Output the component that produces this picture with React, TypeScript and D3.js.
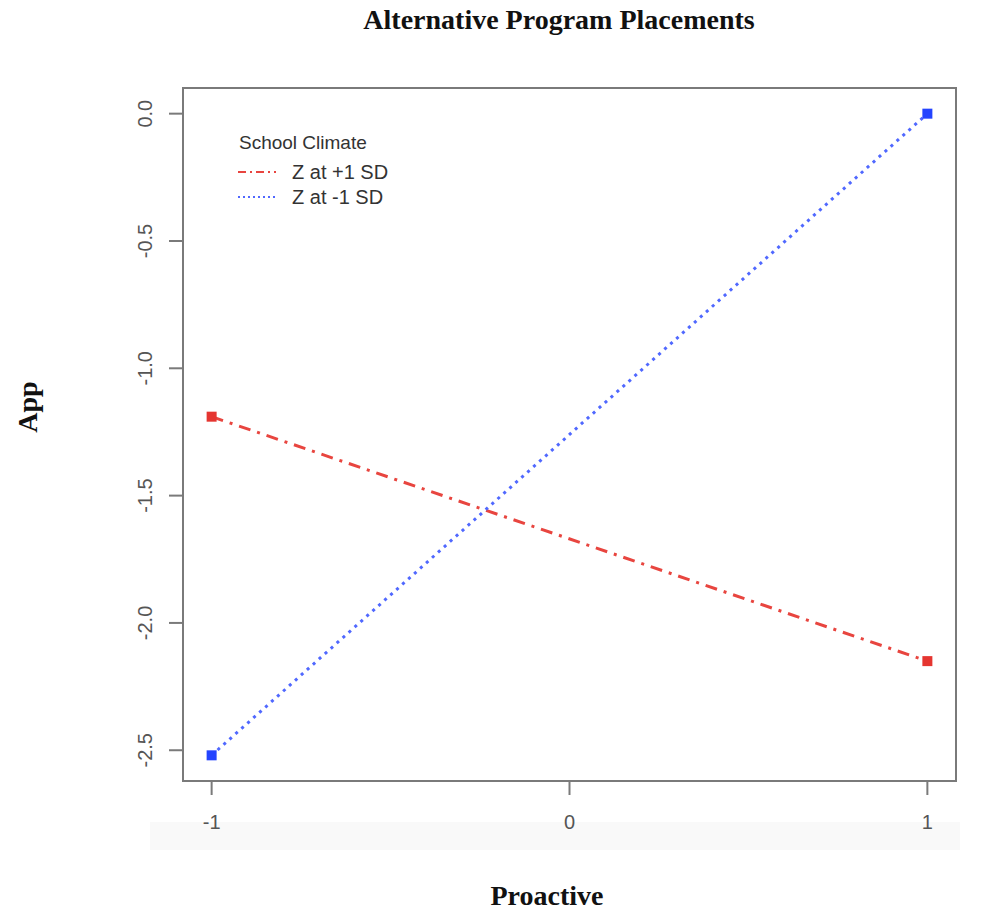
import * as d3 from 'd3';
import React, { useEffect, useRef } from 'react';

// values
const xLevels = [-1, 1];
const seriesNames = ['Z at +1 SD', 'Z at -1 SD'];
const highZ = [-1.19, -2.15];
const lowZ = [-2.52, 0.0];
const xTicks = [-1, 0, 1];
const yTicks = [0.0, -0.5, -1.0, -1.5, -2.0, -2.5];

const W = 983;
const H = 913;

// R prints a plain hyphen, d3 uses the unicode minus
const hyphen = (s: string) => s.replace('\u2212', '-');

export default function App() {
  const ref = useRef<SVGSVGElement>(null);

  useEffect(() => {
    const svg = d3.select(ref.current);
    svg.selectAll('*').remove();

    const box = { left: 183, right: 956, top: 88, bottom: 781 };

    // R style 4% extension of the data range
    const ext = (lo: number, hi: number) => {
      const d = (hi - lo) * 0.04;
      return [lo - d, hi + d];
    };
    const allY = highZ.concat(lowZ);
    const x = d3.scaleLinear().domain(ext(-1, 1)).range([box.left, box.right]);
    const y = d3.scaleLinear().domain(ext(d3.min(allY)!, d3.max(allY)!)).range([box.bottom, box.top]);

    // faint scan band under the x labels
    svg.append('rect')
      .attr('x', 150).attr('y', 822).attr('width', 810).attr('height', 28)
      .attr('fill', '#f9f9f9');

    const series = [
      { name: seriesNames[0], vals: highZ, line: '#e8453f', pt: '#e53530', dash: '12 7 3 7' },
      { name: seriesNames[1], vals: lowZ, line: '#5068ff', pt: '#2444ff', dash: '3 5' },
    ];

    const line = d3.line<[number, number]>().x(d => x(d[0])).y(d => y(d[1]));

    series.forEach(s => {
      const pts = xLevels.map((v, i) => [v, s.vals[i]] as [number, number]);
      svg.append('path')
        .attr('d', line(pts))
        .attr('fill', 'none')
        .attr('stroke', s.line)
        .attr('stroke-width', 3)
        .attr('stroke-dasharray', s.dash);
      svg.selectAll(null)
        .data(pts)
        .enter()
        .append('rect')
        .attr('x', d => x(d[0]) - 5)
        .attr('y', d => y(d[1]) - 5)
        .attr('width', 10)
        .attr('height', 10)
        .attr('fill', s.pt);
    });

    // plot box
    svg.append('rect')
      .attr('x', box.left).attr('y', box.top)
      .attr('width', box.right - box.left).attr('height', box.bottom - box.top)
      .attr('fill', 'none').attr('stroke', '#7a7a7a').attr('stroke-width', 2);

    // x axis
    const xa = svg.append('g').attr('transform', `translate(0,${box.bottom})`);
    xa.append('line')
      .attr('x1', x(-1)).attr('x2', x(1))
      .attr('stroke', '#7a7a7a').attr('stroke-width', 2);
    xTicks.forEach(t => {
      xa.append('line')
        .attr('x1', x(t)).attr('x2', x(t)).attr('y1', 0).attr('y2', 14)
        .attr('stroke', '#7a7a7a').attr('stroke-width', 2);
      xa.append('text')
        .attr('x', x(t)).attr('y', 48)
        .attr('text-anchor', 'middle')
        .attr('font-family', 'Liberation Sans, Arial, sans-serif')
        .attr('font-size', 20)
        .attr('fill', '#555')
        .text(hyphen(d3.format('d')(t)));
    });

    // y axis
    const ya = svg.append('g').attr('transform', `translate(${box.left},0)`);
    ya.append('line')
      .attr('y1', y(-2.5)).attr('y2', y(0))
      .attr('stroke', '#7a7a7a').attr('stroke-width', 2);
    yTicks.forEach(t => {
      ya.append('line')
        .attr('x1', 0).attr('x2', -14).attr('y1', y(t)).attr('y2', y(t))
        .attr('stroke', '#7a7a7a').attr('stroke-width', 2);
      ya.append('text')
        .attr('transform', `translate(-31,${y(t)}) rotate(-90)`)
        .attr('text-anchor', 'middle')
        .attr('font-family', 'Liberation Sans, Arial, sans-serif')
        .attr('font-size', 20)
        .attr('fill', '#555')
        .text(hyphen(d3.format('.1f')(t)));
    });

    // titles
    svg.append('text')
      .attr('x', 559).attr('y', 29)
      .attr('text-anchor', 'middle')
      .attr('font-family', 'Liberation Serif, Times New Roman, serif')
      .attr('font-weight', 'bold')
      .attr('font-size', 28)
      .attr('fill', '#111')
      .text('Alternative Program Placements');
    svg.append('text')
      .attr('x', 547).attr('y', 905)
      .attr('text-anchor', 'middle')
      .attr('font-family', 'Liberation Serif, Times New Roman, serif')
      .attr('font-weight', 'bold')
      .attr('font-size', 28)
      .attr('fill', '#111')
      .text('Proactive');
    svg.append('text')
      .attr('transform', 'translate(37,407) rotate(-90)')
      .attr('text-anchor', 'middle')
      .attr('font-family', 'Liberation Serif, Times New Roman, serif')
      .attr('font-weight', 'bold')
      .attr('font-size', 28)
      .attr('fill', '#111')
      .text('App');

    // legend
    const lg = svg.append('g').attr('font-family', 'Liberation Sans, Arial, sans-serif');
    lg.append('text')
      .attr('x', 239).attr('y', 149)
      .attr('font-size', 19)
      .attr('fill', '#333')
      .text('School Climate');
    series.forEach((s, i) => {
      const ly = 172 + i * 25;
      lg.append('line')
        .attr('x1', 238).attr('x2', 276).attr('y1', ly).attr('y2', ly)
        .attr('stroke', s.line).attr('stroke-width', 2)
        .attr('stroke-dasharray', i === 0 ? '8 4 2 4' : '2 3');
      lg.append('text')
        .attr('x', 292).attr('y', ly + 7)
        .attr('font-size', 20)
        .attr('fill', '#333')
        .text(s.name);
    });
  }, []);

  return <svg ref={ref} width={W} height={H} style={{ display: 'block', position: 'absolute', left: 0, top: 0 }} />;
}
